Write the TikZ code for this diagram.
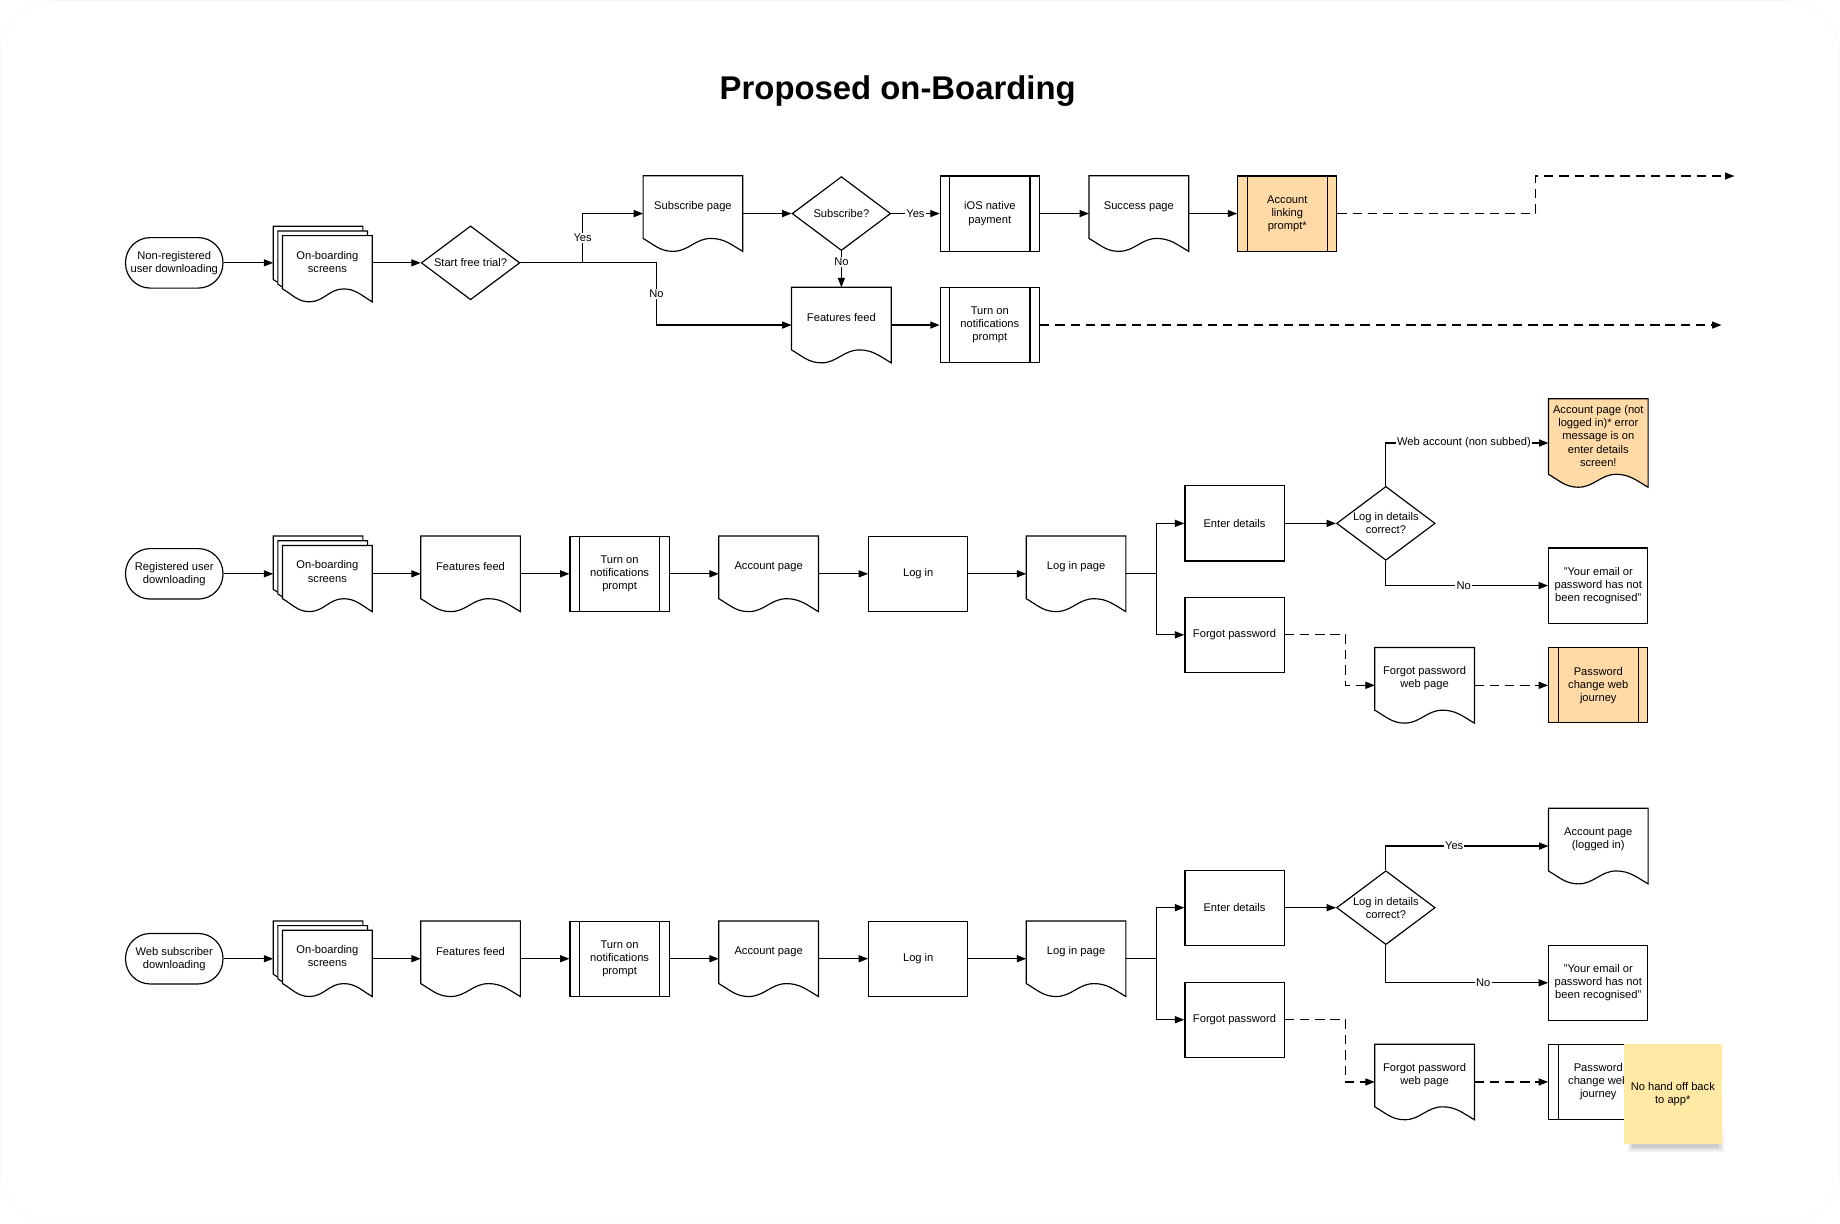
\documentclass[tikz,border=0pt]{standalone}
\usepackage{fontspec}
\setmainfont{Liberation Sans}
\usetikzlibrary{arrows.meta,shapes.geometric,calc}
\definecolor{orfill}{HTML}{FFDAA6}
\definecolor{stfill}{HTML}{FFE9A5}
% document shape: [opts]{name}{pos}{fill}{text}
\newcommand{\docsh}[5][]{%
  \node[docbase,#1] (#2) at (#3) {};
  \filldraw[shapeline, fill=#4] (#2.south east) -- (#2.north east) -- (#2.north west) -- ([yshift=11pt]#2.south west)
    to[out=-30,in=180] ($(#2.south west)!0.3!(#2.south east)$)
    to[out=0,in=180] ($(#2.south west)!0.68!(#2.south east)+(0pt,11pt)$)
    to[out=0,in=150] (#2.south east) -- cycle;
  \node[txt] (#2-t) at ([yshift=6pt]#2.center) {#5};
}
% predefined process: {name}{pos}{fill}{text}
\newcommand{\procsh}[4]{%
  \node[procbox, fill=#3] (#1) at (#2) {#4};
  \draw[shapeline] ([xshift=8.5pt]#1.north west) -- ([xshift=8.5pt]#1.south west)
     ([xshift=-8.5pt]#1.north east) -- ([xshift=-8.5pt]#1.south east);
}
% multi document: {name}{x}{y of front centre}{text}
\newcommand{\multidoc}[4]{%
  \docsh[docsmall]{#1a}{#2-8,#3-8}{white}{}
  \docsh[docsmall]{#1b}{#2-4,#3-4}{white}{}
  \docsh[docsmall]{#1c}{#2,#3}{white}{#4}
}
\begin{document}
\begin{tikzpicture}[x=1pt,y=-1pt,
  every node/.style={font=\fontsize{9.5}{11.2}\selectfont, align=center},
  shapeline/.style={draw=black, line width=1pt},
  docbase/.style={draw=none, inner sep=0pt, minimum width=84.5pt, minimum height=64pt},
  docsmall/.style={minimum width=76pt, minimum height=56pt},
  tallsh/.style={minimum height=75pt},
  txt/.style={inner sep=0pt},
  procbox/.style={shapeline, inner sep=0pt, minimum width=84.5pt, minimum height=64pt},
  plainbox/.style={shapeline, fill=white, inner sep=0pt, minimum width=84.5pt, minimum height=64pt},
  term/.style={shapeline, rounded corners=21pt, minimum width=83pt, minimum height=43pt, inner sep=0pt},
  dec/.style={shapeline, diamond, minimum width=84pt, minimum height=63pt, inner sep=0pt, fill=white},
  arr/.style={line width=1pt, -{Triangle[length=8pt,width=6pt]}},
  darr/.style={arr, dash pattern=on 8pt off 5pt},
  lbl/.style={fill=white, inner sep=1pt},
]
\useasboundingbox (0,0) rectangle (1568,1043);
\draw[black!3, line width=0.6pt, rounded corners=45pt] (0.5,0.5) rectangle (1567.5,1042.5);

\node[font=\fontsize{28}{34}\selectfont\bfseries] (title) at (765,78) {Proposed on-Boarding};

% ---------------- Row 1 ----------------
\node[term] (t1) at (148.5,224) {Non-registered\\user downloading};
\multidoc{ob1}{279}{229}{On-boarding\\screens}
\node[dec] (d1) at (401,224) {};
\node[txt] (d1-t) at (d1.center) {Start free trial?};
\docsh{sp}{590.5,182}{white}{Subscribe page}
\node[dec] (d2) at (717,182) {};
\node[txt] (d2-t) at (d2.center) {Subscribe?};
\procsh{ios}{843.5,182}{white}{iOS native\\payment}
\docsh{succ}{970.5,182}{white}{Success page}
\procsh{alp}{1097,182}{orfill}{Account\\linking\\prompt*}
\docsh{ff1}{717,277}{white}{Features feed}
\procsh{np1}{843.5,277}{white}{Turn on\\notifications\\prompt}
\coordinate (e1) at (1478,150);
\coordinate (e2) at (1467,277);

\draw[arr] (t1.east) -- (t1.east -| ob1a.west);
\draw[arr] (ob1c.east |- d1.west) -- (d1.west);
\draw[arr] (d1.east) -- ++(53pt,0pt) |- node[lbl,pos=0.25] {Yes} (sp.west);
\draw[arr] (d1.east) -- ++(116pt,0pt) |- node[lbl,pos=0.25] {No} (ff1.west);
\draw[arr] (sp.east |- d2.west) -- (d2.west);
\draw[arr] (d2.east) -- node[lbl] {Yes} (ios.west);
\draw[arr] (d2.south) -- node[lbl,pos=0.3] {No} (ff1.north);
\draw[arr] (ios.east) -- (succ.west);
\draw[arr] (succ.east) -- (alp.west);
\draw[darr] (alp.east) -- ++(169pt,0pt) |- (e1);
\draw[arr] (ff1.east) -- (np1.west);
\draw[darr] (np1.east) -- (e2);

% ---------------- Row 2 ----------------
\node[term] (t2) at (148.5,489) {Registered user\\downloading};
\multidoc{ob2}{279}{493}{On-boarding\\screens}
\docsh{ff2}{401,489}{white}{Features feed}
\procsh{np2}{528,489}{white}{Turn on\\notifications\\prompt}
\docsh{ap2}{655,489}{white}{Account page}
\node[plainbox] (li2) at (782.5,489) {Log in};
\docsh{lp2}{917,489}{white}{Log in page}
\node[plainbox] (ed2) at (1052,446) {Enter details};
\node[plainbox] (fp2) at (1052,541) {Forgot password};
\node[dec] (d3) at (1181,446) {};
\node[txt] (d3-t) at (d3.center) {Log in details\\correct?};
\docsh[tallsh]{apn}{1362,377.5}{orfill}{Account page (not\\logged in)* error\\message is on\\enter details\\screen!}
\node[plainbox] (yer2) at (1362,499) {"Your email or\\password has not\\been recognised"};
\docsh{fpw2}{1214,584}{white}{Forgot password\\web page}
\procsh{pcw2}{1362,584}{orfill}{Password\\change web\\journey}

\draw[arr] (t2.east) -- (t2.east -| ob2a.west);
\draw[arr] (ob2c.east |- ff2.west) -- (ff2.west);
\draw[arr] (ff2.east) -- (np2.west);
\draw[arr] (np2.east) -- (ap2.west);
\draw[arr] (ap2.east) -- (li2.west);
\draw[arr] (li2.east) -- (lp2.west);
\draw[arr] (lp2.east) -- ++(26pt,0pt) |- (ed2.west);
\draw[arr] (lp2.east) -- ++(26pt,0pt) |- (fp2.west);
\draw[arr] (ed2.east) -- (d3.west);
\draw[arr] (d3.north) |- node[lbl,pos=0.74] {Web account (non subbed)} (apn.west);
\draw[arr] (d3.south) |- node[lbl,pos=0.74] {No} (yer2.west);
\draw[darr] (fp2.east) -- ++(52pt,0pt) |- (fpw2.west);
\draw[darr] (fpw2.east) -- (pcw2.west);

% ---------------- Row 3 ----------------
\node[term] (t3) at (148.5,817) {Web subscriber\\downloading};
\multidoc{ob3}{279}{821}{On-boarding\\screens}
\docsh{ff3}{401,817}{white}{Features feed}
\procsh{np3}{528,817}{white}{Turn on\\notifications\\prompt}
\docsh{ap3}{655,817}{white}{Account page}
\node[plainbox] (li3) at (782.5,817) {Log in};
\docsh{lp3}{917,817}{white}{Log in page}
\node[plainbox] (ed3) at (1052,773.5) {Enter details};
\node[plainbox] (fp3) at (1052,869) {Forgot password};
\node[dec] (d4) at (1181,773.5) {};
\node[txt] (d4-t) at (d4.center) {Log in details\\correct?};
\docsh{apl}{1362,721}{white}{Account page\\(logged in)}
\node[plainbox] (yer3) at (1362,837.5) {"Your email or\\password has not\\been recognised"};
\docsh{fpw3}{1214,922}{white}{Forgot password\\web page}
\procsh{pcw3}{1362,922}{white}{Password\\change web\\journey}

\draw[arr] (t3.east) -- (t3.east -| ob3a.west);
\draw[arr] (ob3c.east |- ff3.west) -- (ff3.west);
\draw[arr] (ff3.east) -- (np3.west);
\draw[arr] (np3.east) -- (ap3.west);
\draw[arr] (ap3.east) -- (li3.west);
\draw[arr] (li3.east) -- (lp3.west);
\draw[arr] (lp3.east) -- ++(26pt,0pt) |- (ed3.west);
\draw[arr] (lp3.east) -- ++(26pt,0pt) |- (fp3.west);
\draw[arr] (ed3.east) -- (d4.west);
\draw[arr] (d4.north) |- node[lbl,pos=0.71] {Yes} (apl.west);
\draw[arr] (d4.south) |- node[lbl,pos=0.8] {No} (yer3.west);
\draw[darr] (fp3.east) -- ++(52pt,0pt) |- (fpw3.west);
\draw[darr] (fpw3.east) -- (pcw3.west);

% sticky note
\fill[black,opacity=0.05] (1387,966) rectangle (1469,982);
\fill[black,opacity=0.07] (1389,968) rectangle (1467,980);
\fill[black,opacity=0.09] (1391,970) rectangle (1465,978);
\node[fill=stfill, minimum width=83pt, minimum height=85pt, inner sep=0pt] (note) at (1425.5,932.5) {No hand off back\\to app*};
\end{tikzpicture}
\end{document}
